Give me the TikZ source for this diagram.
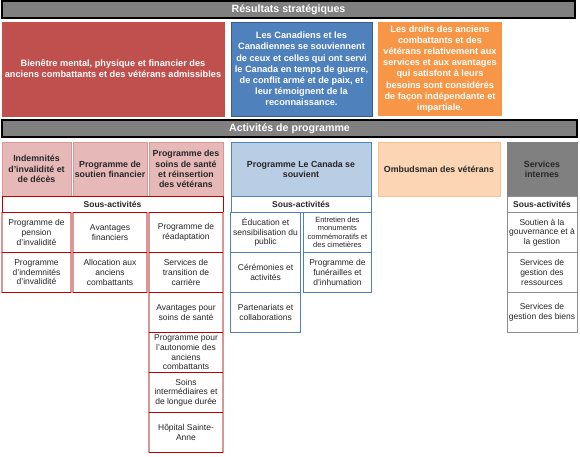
\documentclass[tikz,border=0pt]{standalone}
\usepackage{fontspec}
\setmainfont{Liberation Sans}
\usetikzlibrary{positioning}

\definecolor{hdrgray}{HTML}{808080}
\definecolor{outred}{HTML}{C0504D}
\definecolor{outblue}{HTML}{4F81BD}
\definecolor{outblueline}{HTML}{385D8A}
\definecolor{outorange}{HTML}{F79646}
\definecolor{pinkfill}{HTML}{E6B9B8}
\definecolor{pinkline}{HTML}{D99694}
\definecolor{redrule}{HTML}{C00000}
\definecolor{bluefill}{HTML}{B9CDE5}
\definecolor{orangefill}{HTML}{FCD5B5}
\definecolor{orangeline}{HTML}{FAC090}
\definecolor{grayline}{HTML}{8C8C8C}

\begin{document}
\begin{tikzpicture}[
  x=1pt, y=-1pt,
  node distance=0pt,
  every node/.style={inner sep=1pt, align=center, text=black!85,
    font=\fontsize{8.5}{9.6}\selectfont},
  header/.style={
    draw=black, line width=1.5pt, fill=hdrgray,
    minimum height=17pt, text=white,
    font=\bfseries\fontsize{10.6}{12}\selectfont
  },
  outcome/.style={
    minimum height=94pt, text=white,
    font=\bfseries\fontsize{9.2}{11.2}\selectfont
  },
  prog/.style={
    line width=0.8pt, minimum height=54pt,
    font=\bfseries\fontsize{8.8}{10.3}\selectfont
  },
  sousrow/.style={
    draw, fill=white, line width=0.8pt, minimum height=16pt,
    font=\bfseries\fontsize{8.5}{9.6}\selectfont
  },
  cell/.style={draw, fill=white, line width=0.8pt, outer sep=0pt, minimum height=40pt},
  redcell/.style={cell, draw=pinkline, line width=1.6pt},
  hrule/.style={draw=redrule, line width=0.8pt},
]
\useasboundingbox (0,0) rectangle (580,456);

%% ── Strategic outcomes ───────────────────────────────────────────────────
\node[header, minimum width=573pt] (RS) at (288.5,9.5) {Résultats stratégiques};

\node[outcome, fill=outred, draw=outred, minimum width=222pt] (OR) at (113,69)
  {Bienêtre mental, physique et financier des\\anciens combattants et des vétérans admissibles};
\node[outcome, fill=outblue, draw=outblueline, minimum width=141pt] (OB) at (301.5,69)
  {Les Canadiens et les\\Canadiennes se souviennent\\de ceux et celles qui ont servi\\le Canada en temps de guerre,\\de conflit armé et de paix, et\\leur témoignent de la\\reconnaissance.};
\node[outcome, fill=outorange, minimum width=124pt] (OO) at (440,69)
  {Les droits des anciens\\combattants et des\\vétérans relativement aux\\services et aux avantages\\qui satisfont à leurs\\besoins sont considérés\\de façon indépendante et\\impartiale.};

%% ── Program activities ───────────────────────────────────────────────────
\node[header, minimum width=575pt] (AP) at (289.5,128.5) {Activités de programme};

\node[prog, fill=pinkfill, draw=pinkline, minimum width=69pt] (IND) at (36.5,169)
  {Indemnités\\d’invalidité et\\de décès};
\node[prog, fill=pinkfill, draw=pinkline, minimum width=74pt] (SF) at (110,169)
  {Programme de\\soutien financier};
\node[prog, fill=pinkfill, draw=pinkline, minimum width=74pt] (SS) at (186,169)
  {Programme des\\soins de santé\\et réinsertion\\des vétérans};
\node[prog, fill=bluefill, draw=outblue, minimum width=140pt] (CS) at (301,169)
  {Programme Le Canada se\\souvient};
\node[prog, fill=orangefill, draw=orangeline, minimum width=122pt] (OV) at (439,169)
  {Ombudsman des vétérans};
\node[prog, fill=hdrgray, draw=hdrgray, minimum width=70pt] (SI) at (542,169)
  {Services\\internes};

%% ── Sub-activity headings ────────────────────────────────────────────────
\node[sousrow, draw=redrule, minimum width=221pt] (SaR) at (112.5,204) {Sous-activités};
\node[sousrow, draw=outblue, minimum width=140pt] (SaB) at (301,204) {Sous-activités};
\node[sousrow, draw=grayline, minimum width=70pt] (SaG) at (542,204) {Sous-activités};

%% ── Sub-activities, red columns ──────────────────────────────────────────
\node[redcell, minimum width=69pt, anchor=north] (IND1) at (IND.south |- SaR.south)
  {Programme de\\pension\\d'invalidité};
\node[redcell, minimum width=69pt, below=of IND1] (IND2)
  {Programme\\d'indemnités\\d'invalidité};

\node[redcell, minimum width=74pt, anchor=north] (SF1) at (SF.south |- SaR.south)
  {Avantages\\financiers};
\node[redcell, minimum width=74pt, below=of SF1] (SF2)
  {Allocation aux\\anciens\\combattants};

\node[redcell, minimum width=74pt, anchor=north] (SS1) at (SS.south |- SaR.south)
  {Programme de\\réadaptation};
\node[redcell, minimum width=74pt, below=of SS1] (SS2)
  {Services de\\transition de\\carrière};
\node[redcell, minimum width=74pt, below=of SS2] (SS3)
  {Avantages pour\\soins de santé};
\node[redcell, minimum width=74pt, below=of SS3] (SS4)
  {Programme pour\\l'autonomie des\\anciens\\combattants};
\node[redcell, minimum width=74pt, below=of SS4] (SS5)
  {Soins\\intermédiaires et\\de longue durée};
\node[redcell, minimum width=74pt, below=of SS5] (SS6)
  {Hôpital Sainte-\\Anne};

\foreach \c in {IND1,IND2,SF1,SF2,SS1,SS2,SS3,SS4,SS5,SS6}
  \draw[hrule] (\c.north west) -- (\c.north east) (\c.south west) -- (\c.south east);

%% ── Sub-activities, blue column ──────────────────────────────────────────
\node[cell, draw=outblue, minimum width=70pt, anchor=north west] (CS1) at (SaB.south west)
  {Éducation et\\sensibilisation du\\public};
\node[cell, draw=outblue, minimum width=70pt, below=of CS1] (CS2)
  {Cérémonies et\\activités};
\node[cell, draw=outblue, minimum width=70pt, below=of CS2] (CS3)
  {Partenariats et\\collaborations};
\node[cell, draw=outblue, minimum width=68pt, anchor=north east,
      font=\fontsize{7.5}{8.6}\selectfont] (CS4) at (SaB.south east)
  {Entretien des\\monuments\\commémoratifs et\\des cimetières};
\node[cell, draw=outblue, minimum width=68pt, below=of CS4] (CS5)
  {Programme de\\funérailles et\\d'inhumation};

%% ── Sub-activities, internal services ────────────────────────────────────
\node[cell, draw=grayline, minimum width=70pt, below=of SaG] (SI1)
  {Soutien à la\\gouvernance et à\\la gestion};
\node[cell, draw=grayline, minimum width=70pt, below=of SI1] (SI2)
  {Services de\\gestion des\\ressources};
\node[cell, draw=grayline, minimum width=70pt, below=of SI2] (SI3)
  {Services de\\gestion des biens};

\end{tikzpicture}
\end{document}
